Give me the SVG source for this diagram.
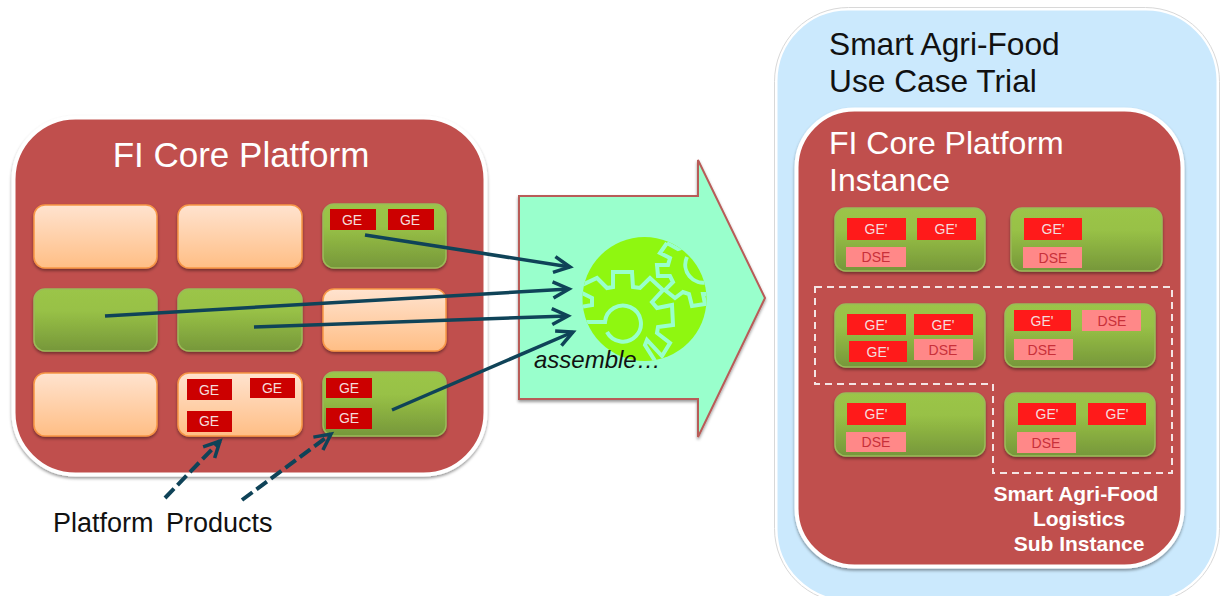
<svg xmlns="http://www.w3.org/2000/svg" width="1220" height="596" viewBox="0 0 1220 596">
<defs>
<linearGradient id="gOrange" x1="0" y1="0" x2="0" y2="1"><stop offset="0" stop-color="#ffe3cf"/><stop offset="1" stop-color="#ffbe85"/></linearGradient>
<linearGradient id="gGreen" x1="0" y1="0" x2="0" y2="1"><stop offset="0" stop-color="#9bc548"/><stop offset="0.35" stop-color="#98c146"/><stop offset="1" stop-color="#76973a"/></linearGradient>
<filter id="sh" x="-10%" y="-10%" width="120%" height="125%"><feDropShadow dx="0" dy="2" stdDeviation="1.5" flood-color="#000" flood-opacity="0.4"/></filter>
<marker id="ah" markerUnits="userSpaceOnUse" markerWidth="24" markerHeight="24" refX="19" refY="12" orient="auto"><path d="M3 4L19 12L3 20" fill="none" stroke="#0f4358" stroke-width="3.5"/></marker>
<clipPath id="gearClip"><circle cx="644.500" cy="299" r="62"/></clipPath>
</defs>
<style>
text{font-family:"Liberation Sans",Arial,sans-serif}
.o{fill:url(#gOrange);stroke:#f79646;stroke-width:1.5;filter:url(#sh)}
.g{fill:url(#gGreen);stroke:#9bbb59;stroke-width:1.5;filter:url(#sh)}
.ge{fill:#cc0000}.gep{fill:#ff1a1a}.dse{fill:#ff8888}
.lb{font-size:14px;fill:#f5dcdc;text-anchor:middle}
.ld{font-size:14px;fill:#c8303a;text-anchor:middle}
.big{font-size:32px;fill:#fff}
.dark{font-size:32px;fill:#111}
.prod{font-size:27px;fill:#111}
.sub{font-size:21px;font-weight:bold;fill:#fff;text-anchor:middle}
.conn{fill:none;stroke:#0f4358;stroke-width:3.5;marker-end:url(#ah)}
.dash{stroke-dasharray:13 5;stroke-width:4}
</style>

<g id="fi-core-platform">
<rect x="13.500" y="117.500" width="472" height="357" rx="62" fill="#c0504d" stroke="#fff" stroke-width="4" filter="url(#sh)"/>
<text x="241" y="167" class="big" style="font-size:35px" text-anchor="middle">FI Core Platform</text>
</g>
<g id="p-r1c1"><rect class="o" x="34" y="205" width="123" height="63" rx="11"/></g>
<g id="p-r1c2"><rect class="o" x="178" y="205" width="124" height="63" rx="11"/></g>
<g id="p-r1c3"><rect class="g" x="323" y="204" width="123" height="64" rx="11"/>
<rect class="ge" x="330" y="209" width="46" height="21"/><text class="lb" x="352" y="225">GE</text>
<rect class="ge" x="388" y="209" width="46" height="21"/><text class="lb" x="410" y="225">GE</text></g>
<g id="p-r2c1"><rect class="g" x="34" y="289" width="123" height="62" rx="11"/></g>
<g id="p-r2c2"><rect class="g" x="178" y="289" width="124" height="62" rx="11"/></g>
<g id="p-r2c3"><rect class="o" x="323" y="289" width="123" height="62" rx="11"/></g>
<g id="p-r3c1"><rect class="o" x="34" y="373" width="123" height="63" rx="11"/></g>
<g id="p-r3c2"><rect class="o" x="178" y="373" width="124" height="63" rx="11"/>
<rect class="ge" x="187" y="379" width="45" height="21"/><text class="lb" x="209" y="395">GE</text>
<rect class="ge" x="250" y="378" width="45" height="20"/><text class="lb" x="272" y="393">GE</text>
<rect class="ge" x="187" y="411" width="45" height="21"/><text class="lb" x="209" y="426">GE</text></g>
<g id="p-r3c3"><rect class="g" x="323" y="372" width="123" height="64" rx="11"/>
<rect class="ge" x="326" y="378" width="46" height="20"/><text class="lb" x="349" y="393">GE</text>
<rect class="ge" x="326" y="408" width="46" height="21"/><text class="lb" x="349" y="423">GE</text></g>
<g id="platform-products"><text class="prod" x="53" y="532">Platform</text><text class="prod" x="166" y="532">Products</text></g>

<g id="assemble">
<path d="M519 196H698V160L765 298L698 437V399H519Z" fill="#99ffcc" stroke="#b85c58" stroke-width="2" filter="url(#sh)"/>
<circle cx="644.500" cy="299" r="62" fill="#8ff710"/>
<g fill="none" stroke="#99ffcc" stroke-width="4" clip-path="url(#gearClip)">
<path d="M580 322H605A18 18 0 1 1 607 332"/>
<path d="M580 286L597 278L607 288L613 287V272H632L633 287L640 288L650 278L663 290L652 302L657 308L672 305L673 325L658 327L657 333L670 343L662 356L647 340L645 345L657 364"/>
<path d="M580 292L592 298V305L580 307"/>
<path d="M667 243L660 253L670 258L668 265H657L658 276H670L673 282L665 290L675 298L683 292L689 294L692 306L705 304L703 294H710"/>
<path d="M667 243L678 249L684 247L700 257"/>
<path d="M687 257A18 18 0 0 0 708 282"/>
</g>
<text x="534" y="368" style="font-size:24px;font-style:italic;fill:#111">assemble…</text>
</g>

<g id="use-case-trial">
<rect x="776" y="9" width="442" height="592" rx="72" fill="#cbe9fd" stroke="#fff" stroke-width="3"/>
<rect x="774.500" y="7.500" width="445" height="595" rx="74" fill="none" stroke="#d8d8d8" stroke-width="1"/>
<text x="829" y="55" class="dark" style="font-size:31.700px">Smart Agri-Food</text>
<text x="829" y="92" class="dark" style="font-size:31.700px">Use Case Trial</text>
</g>
<g id="instance">
<rect x="796.500" y="109.500" width="386" height="457" rx="58" fill="#c0504d" stroke="#fff" stroke-width="4" filter="url(#sh)"/>
<text x="829" y="154" class="big">FI Core Platform</text>
<text x="829" y="191" class="big">Instance</text>
</g>
<g id="i-1"><rect class="g" x="835" y="208" width="150" height="63" rx="11"/>
<rect class="gep" x="847" y="218" width="59" height="22"/><text class="lb" x="876" y="234">GE'</text>
<rect class="gep" x="917" y="218" width="59" height="22"/><text class="lb" x="946" y="234">GE'</text>
<rect class="dse" x="846" y="247" width="60" height="20"/><text class="ld" x="876" y="262">DSE</text></g>
<g id="i-2"><rect class="g" x="1011" y="208" width="151" height="63" rx="11"/>
<rect class="gep" x="1024" y="218" width="58" height="22"/><text class="lb" x="1053" y="234">GE'</text>
<rect class="dse" x="1023" y="247" width="59" height="21"/><text class="ld" x="1053" y="263">DSE</text></g>
<g id="i-3"><rect class="g" x="835" y="304" width="150" height="63" rx="11"/>
<rect class="gep" x="847" y="314" width="59" height="21"/><text class="lb" x="876" y="330">GE'</text>
<rect class="gep" x="914" y="314" width="59" height="21"/><text class="lb" x="943" y="330">GE'</text>
<rect class="gep" x="849" y="341" width="58" height="21"/><text class="lb" x="878" y="357">GE'</text>
<rect class="dse" x="914" y="339" width="59" height="21"/><text class="ld" x="943" y="355">DSE</text></g>
<g id="i-4"><rect class="g" x="1005" y="304" width="150" height="63" rx="11"/>
<rect class="gep" x="1014" y="310" width="57" height="21"/><text class="lb" x="1042" y="326">GE'</text>
<rect class="dse" x="1082" y="310" width="59" height="21"/><text class="ld" x="1112" y="326">DSE</text>
<rect class="dse" x="1014" y="339" width="59" height="21"/><text class="ld" x="1042" y="355">DSE</text></g>
<g id="i-5"><rect class="g" x="835" y="393" width="150" height="63" rx="11"/>
<rect class="gep" x="847" y="403" width="59" height="22"/><text class="lb" x="876" y="419">GE'</text>
<rect class="dse" x="846" y="432" width="60" height="20"/><text class="ld" x="876" y="447">DSE</text></g>
<g id="i-6"><rect class="g" x="1005" y="393" width="150" height="63" rx="11"/>
<rect class="gep" x="1018" y="403" width="58" height="22"/><text class="lb" x="1047" y="419">GE'</text>
<rect class="gep" x="1088" y="403" width="58" height="22"/><text class="lb" x="1117" y="419">GE'</text>
<rect class="dse" x="1017" y="432" width="59" height="21"/><text class="ld" x="1046" y="448">DSE</text></g>
<g id="sub-instance">
<path d="M815 287H1172V473H993V384H815Z" fill="none" stroke="#f4e4e4" stroke-width="2" stroke-dasharray="7 5"/>
<text class="sub" x="1076" y="501">Smart Agri-Food</text>
<text class="sub" x="1079" y="526">Logistics</text>
<text class="sub" x="1079" y="551">Sub Instance</text>
</g>

<g id="connectors">
<path class="conn" d="M365 235L570 267"/>
<path class="conn" d="M105 316L569 289"/>
<path class="conn" d="M254 327L568 316"/>
<path class="conn" d="M392 410L573 332"/>
<path class="conn dash" d="M165 498L220 441"/>
<path class="conn dash" d="M242 500L331 434"/>
</g>
</svg>
